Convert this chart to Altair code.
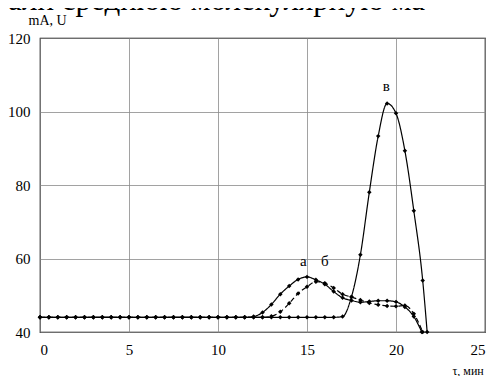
import altair as alt
import pandas as pd

# curve "а" (solid)
t_a = [0, 0.5, 1, 1.5, 2, 2.5, 3, 3.5, 4, 4.5, 5, 5.5, 6, 6.5, 7, 7.5, 8, 8.5, 9, 9.5, 10, 10.5, 11, 11.5,
       12, 12.5, 13, 13.5, 14, 14.5, 15, 15.5, 16, 16.5, 17, 17.5, 18, 18.5, 19, 19.5, 20, 20.5, 21, 21.45]
v_a = [44, 44, 44, 44, 44, 44, 44, 44, 44, 44, 44, 44, 44, 44, 44, 44, 44, 44, 44, 44, 44, 44, 44, 44,
       44.2, 45.3, 47.5, 50.3, 52.5, 54.3, 55, 54.2, 53, 51, 49.3, 48.6, 48.1, 48.3, 48.5, 48.5, 48.2, 46.8, 44.2, 40]

# curve "б" (dashed)
t_b = [0, 0.5, 1, 1.5, 2, 2.5, 3, 3.5, 4, 4.5, 5, 5.5, 6, 6.5, 7, 7.5, 8, 8.5, 9, 9.5, 10, 10.5, 11, 11.5, 12, 12.5,
       13, 13.5, 14, 14.5, 15, 15.5, 16, 16.5, 17, 17.5, 18, 18.5, 19, 19.5, 20, 20.5, 21, 21.5]
v_b = [44, 44, 44, 44, 44, 44, 44, 44, 44, 44, 44, 44, 44, 44, 44, 44, 44, 44, 44, 44, 44, 44, 44, 44, 44, 44,
       44.3, 45.5, 47.8, 50.5, 52.3, 53.7, 53.3, 52, 50.3, 49.5, 48.7, 47.9, 47.4, 47.1, 47, 47.2, 45, 40]

# curve "в" (solid)
t_c = [0, 0.5, 1, 1.5, 2, 2.5, 3, 3.5, 4, 4.5, 5, 5.5, 6, 6.5, 7, 7.5, 8, 8.5, 9, 9.5, 10, 10.5, 11, 11.5, 12, 12.5,
       13, 13.5, 14, 14.5, 15, 15.5, 16, 16.5, 17, 17.5, 18, 18.5, 19, 19.5, 20, 20.5, 21, 21.5, 21.75]
v_c = [44, 44, 44, 44, 44, 44, 44, 44, 44, 44, 44, 44, 44, 44, 44, 44, 44, 44, 44, 44, 44, 44, 44, 44, 44, 44,
       44, 44, 44, 44, 44, 44, 44, 44, 44.2, 49.6, 61, 78, 93.3, 102.2, 99.5, 89.3, 73, 54, 40]

label_text = ["а", "б", "в"]
label_x = [14.8, 16.0, 19.45]
label_y = [57.2, 57.2, 104.8]

x_ticks = [0, 5, 10, 15, 20, 25]
y_ticks = [40, 60, 80, 100, 120]

df_a = pd.DataFrame({"t": t_a, "v": v_a})
df_b = pd.DataFrame({"t": t_b, "v": v_b})
df_c = pd.DataFrame({"t": t_c, "v": v_c})
df_lab = pd.DataFrame({"t": label_x, "v": label_y, "s": label_text})

FONT = "Liberation Serif"

xs = alt.Scale(domain=[0, 25], nice=False)
ys = alt.Scale(domain=[40, 120], nice=False)

common = dict(grid=True, ticks=False, domain=False, labelPadding=10, labelFont=FONT, labelFontSize=15,
              labelColor="black", gridColor="#8a8a8a", gridWidth=0.8, titleFontWeight="normal",
              titleFont=FONT, titleColor="black")
xax = alt.Axis(values=x_ticks, title="τ, мин", titleAnchor="start", titleX=412, titleY=38,
               titleBaseline="middle", titleFontSize=12, **common)
yax = alt.Axis(values=y_ticks, title="mA, U", titleAngle=0, titleX=-12, titleY=-18, titleAlign="left",
               titleBaseline="middle", titleFontSize=14, **common)


def curve(df, dash):
    line = alt.Chart(df).mark_line(color="black", strokeWidth=1.2, interpolate="monotone",
                                   strokeDash=dash).encode(
        x=alt.X("t:Q", scale=xs, axis=xax), y=alt.Y("v:Q", scale=ys, axis=yax))
    pts = alt.Chart(df).mark_point(shape="diamond", filled=True, color="black", size=20, opacity=1).encode(
        x=alt.X("t:Q", scale=xs), y=alt.Y("v:Q", scale=ys))
    return line + pts


labels = alt.Chart(df_lab).mark_text(font=FONT, fontSize=15, color="black", baseline="bottom").encode(
    x=alt.X("t:Q", scale=xs), y=alt.Y("v:Q", scale=ys), text="s:N")

top_text = alt.Chart(pd.DataFrame({"s": ["тали среднюю молекулярную ма"]})).mark_text(
    font=FONT, fontSize=31, color="black", align="left", baseline="alphabetic", clip=False).encode(
    x=alt.value(-46), y=alt.value(-28.5), text="s:N")

chart = alt.layer(curve(df_c, [1, 0]), curve(df_a, [1, 0]), curve(df_b, [5, 3]), labels, top_text).properties(
    width=445, height=294,
    autosize=alt.AutoSizeParams(type="none"),
    padding={"left": 32, "top": 30, "right": 1, "bottom": 44},
    background="white",
).configure_view(stroke="black", strokeWidth=1.2)

chart.save("out.html", embed_options={"renderer": "svg", "actions": False})
